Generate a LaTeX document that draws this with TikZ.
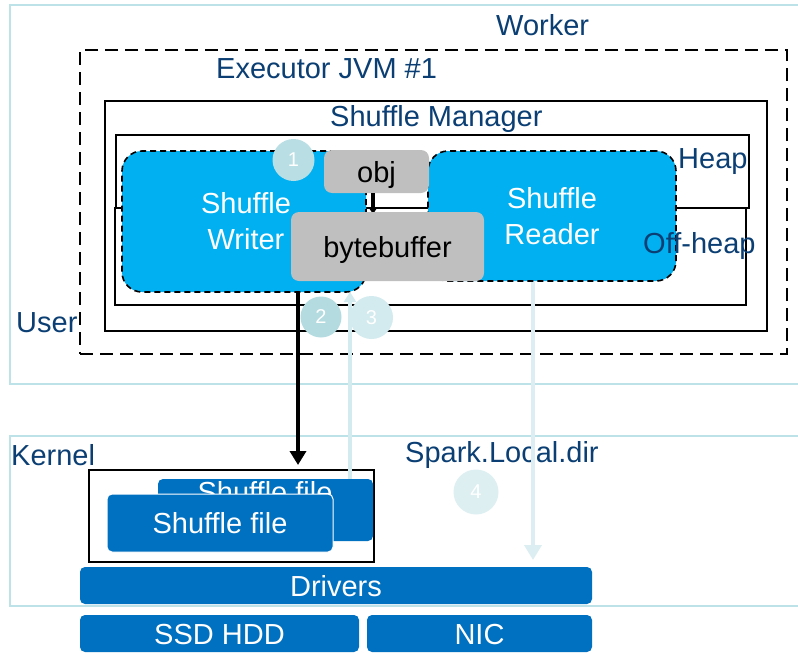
\documentclass[tikz,border=0pt]{standalone}
\usepackage{fontspec}
\setmainfont{Liberation Sans}
\usetikzlibrary{arrows.meta,calc}

\definecolor{zoneline}{HTML}{BDE2E8}
\definecolor{labelblue}{HTML}{0B3F73}
\definecolor{procblue}{HTML}{00B0F0}
\definecolor{bufgray}{HTML}{BFBFBF}
\definecolor{diskblue}{HTML}{0070C0}
\definecolor{stepA}{HTML}{B9DFE4}
\definecolor{stepB}{HTML}{B3DBE0}
\definecolor{stepC}{HTML}{D3EAEE}
\definecolor{stepD}{HTML}{DEEFF2}
\definecolor{flowC}{HTML}{D3EAEE}
\definecolor{flowD}{HTML}{DCEEF1}

\begin{document}
\begin{tikzpicture}[x=1pt,y=-1pt,
  font=\fontsize{29}{36}\selectfont,
  box/.style={rectangle, inner sep=0pt, text height=21pt, text depth=0pt},
  zone/.style={box, draw=zoneline, line width=2pt},
  frame/.style={box, draw=black, line width=1.6pt},
  dashframe/.style={box, draw=black, line width=1.8pt, dash pattern=on 13pt off 7pt},
  proc/.style={box, fill=procblue, draw=black, line width=1.6pt,
    dash pattern=on 6pt off 4pt, rounded corners=20pt},
  buf/.style={box, fill=bufgray, rounded corners=8pt, text=black},
  disk/.style={box, fill=diskblue, rounded corners=5pt, text=white},
  zonelabel/.style={anchor=base west, inner sep=0pt, text=labelblue},
  proctext/.style={anchor=base, inner sep=0pt, text=white},
  stepmark/.style={circle, inner sep=0pt, text=white,
    font=\fontsize{20}{24}\selectfont},
  blackflow/.style={draw=black, line width=4.5pt,
    -{Triangle[width=16pt,length=14pt]}},
  lightflow/.style={line width=4.5pt}
]
\useasboundingbox (0,0) rectangle (798,653);
\clip (0,0) rectangle (798,653);

% user space and kernel space
\node[zone, minimum width=800pt, minimum height=379pt] (user) at (410,194.5) {};
\node[zone, minimum width=800pt, minimum height=170pt] (kernel) at (410,521) {};

% worker, executor and memory areas
\node[dashframe, minimum width=707pt, minimum height=304pt] (worker) at (433.5,202) {};
\node[frame, minimum width=662pt, minimum height=230pt] (executor) at (436,216) {};
\node[frame, minimum width=633pt, minimum height=73pt] (heap) at (432.5,171.5) {};
\node[frame, minimum width=631pt, minimum height=97pt] (offheap) at (430.5,256.5) {};

% zone labels
\node[zonelabel] (lworker) at (496,35) {Worker};
\node[zonelabel] (lexec) at (216,78) {Executor JVM \#1};
\node[zonelabel] (lmgr) at (330,126) {Shuffle Manager};
\node[zonelabel] (luser) at (16,332) {User};
\node[zonelabel] (lkernel) at (11,465) {Kernel};
\node[zonelabel] (llocal) at (405,462) {Spark.Local.dir};

% shuffle writer and reader
\node[proc, minimum width=244pt, minimum height=141pt] (writer) at (244,221.5) {};
\node[proc, minimum width=248pt, minimum height=130pt] (reader) at (552,216) {};
\node[proctext] (wt1) at (246,213) {Shuffle};
\node[proctext] (wt2) at (246,249) {Writer};
\node[proctext] (rt1) at (552,208) {Shuffle};
\node[proctext] (rt2) at (552,244) {Reader};

\node[zonelabel] (lheap) at (678,168) {Heap};
\node[zonelabel] (loff) at (643,253) {Off-heap};

% serialisation: obj into bytebuffer
\node[buf, minimum width=105pt, minimum height=43pt] (obj) at (376.5,171.5) {obj};
\draw[draw=black, line width=3.5pt, -{Triangle[width=9pt,length=7pt]}]
  ([xshift=-3.5pt]obj.south) -- ([xshift=-3.5pt]obj.south |- 0,214);
\node[buf, minimum width=193pt, minimum height=69pt] (bytebuffer) at (387.5,246.5) {bytebuffer};

% step markers
\node[stepmark, fill=stepA, minimum size=42pt] (s1) at (293.5,160) {1};
\node[stepmark, fill=stepB, minimum size=41pt] (s2) at (321,317) {2};
\node[stepmark, fill=stepC, minimum size=43pt] (s3) at (371.5,317.5) {3};
\node[stepmark, fill=stepD, minimum size=45pt] (s4) at (476,492) {4};

% shuffle files on local disk
\node[frame, minimum width=285pt, minimum height=92pt] (store) at (231.5,516) {};
\node[disk, minimum width=215pt, minimum height=62pt] (fileback) at (265.5,510) {};
\begin{scope}
  \clip (fileback.north west) rectangle (fileback.south east);
  \node[proctext] (fbt) at (265,502) {Shuffle file};
\end{scope}
\node[disk, draw=white, line width=1pt, minimum width=226pt, minimum height=58pt]
  (filefront) at (220,523) {Shuffle file};

% drivers and devices
\node[disk, minimum width=512pt, minimum height=37pt] (drivers) at (336,585.5) {Drivers};
\node[disk, minimum width=279pt, minimum height=37pt] (ssd) at (219.5,633.5) {SSD HDD};
\node[disk, minimum width=225pt, minimum height=37pt] (nic) at (479.5,633.5) {NIC};

% data flows
\coordinate (dropA) at (298,465);
\coordinate (riseB) at (350,292);
\coordinate (dropD) at (533,560);
\draw[blackflow] (writer.south -| dropA) -- (dropA);
\draw[lightflow, draw=flowC, -{Triangle[width=12pt,length=10pt]}]
  (fileback.north -| riseB) -- (riseB);
\draw[lightflow, draw=flowD, -{Triangle[width=17pt,length=15pt]}]
  (reader.south -| dropD) -- (dropD);
\end{tikzpicture}
\end{document}
